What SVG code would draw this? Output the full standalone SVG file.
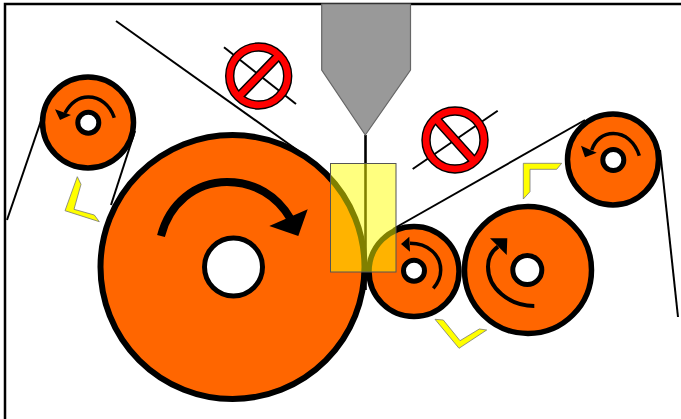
<svg xmlns="http://www.w3.org/2000/svg" width="681" height="419" viewBox="0 0 681 419">
<style>
.roller{fill:#ff6600;stroke:#000;stroke-width:5.500}
.hub{fill:#fff;stroke:#000;stroke-width:5}
.web{fill:none;stroke:#000;stroke-width:2}
.turn{fill:none;stroke:#000;stroke-width:3.500}
.head{fill:#000}
.chev{fill:#ffff00;stroke:#777;stroke-width:.8}
.disc{fill:#fff}
.ring{fill:none;stroke:#000;stroke-width:9.400}
.ringr{fill:none;stroke:#ff0000;stroke-width:6.600}
.bar{fill:#ff0000;stroke:#000;stroke-width:1.500}
</style>
<rect width="681" height="419" fill="#fff"/>
<path d="M5 419V4H681" fill="none" stroke="#000" stroke-width="2.500"/>
<g id="connectors">
<path class="web" d="M116 21L300 152"/>
<path d="M365.500 135V290" fill="none" stroke="#000" stroke-width="2.600"/>
<path class="web" d="M393 229L585 120"/>
<path class="web" d="M660 150L678 317"/>
<path class="web" d="M44 112L7 220"/>
<path class="web" d="M135 131L111 205"/>
</g>
<g id="roller-main">
<circle cx="232.500" cy="267" r="132" fill="#ff6600" stroke="#000" stroke-width="6"/>
<circle class="hub" cx="233.500" cy="267" r="29"/>
<path fill="none" stroke="#000" stroke-width="8" d="M161 236C169 204 195 182 227 182C255 182 277 196 290 218"/>
<path class="head" d="M307.700 209.300L298.300 236L269.300 226Z"/>
</g>
<g id="roller-left">
<circle class="roller" cx="88" cy="122.500" r="45.500"/>
<circle class="hub" cx="88.300" cy="122.700" r="10.500"/>
<path class="turn" d="M114.300 117.700C110 105 100 97 88.300 97C78 97 70 104 65 113"/>
<path class="head" d="M55 109.300L71 115L60 120Z"/>
</g>
<g id="roller-top-right">
<circle class="roller" cx="613" cy="159.500" r="45.500"/>
<circle class="hub" cx="613.300" cy="160" r="10.500"/>
<path class="turn" d="M639.300 155.700C635 142 625 133.500 613.300 133.500C603 133.500 595 140 591.700 150"/>
<path class="head" d="M581 145.700L596.700 152.700L585 157.300Z"/>
</g>
<g id="roller-mid-right">
<circle class="roller" cx="528" cy="270" r="63.500"/>
<circle class="hub" cx="527.300" cy="270" r="14.500"/>
<path fill="none" stroke="#000" stroke-width="4" d="M534.300 306C509 306 488 288 488 266.700C488 258 492 251 498 246.700"/>
<path class="head" d="M490 238.300L507.300 238.300L506.700 255Z"/>
</g>
<g id="roller-nip">
<circle class="roller" cx="414" cy="271.500" r="45"/>
<circle class="hub" cx="414" cy="270.700" r="10.500"/>
<path class="turn" d="M410 243.300C428 243.300 440.700 255 440.700 270C440.700 277 438 283 433.300 288.300"/>
<path class="head" d="M409.300 236.700L401 244L410 251.700Z"/>
</g>
<g id="nozzle">
<path d="M321.700 4H410.500V70L365.300 135L321.700 70Z" fill="#999" stroke="#666" stroke-width="1.200"/>
</g>
<g id="zone">
<rect x="330.500" y="163.500" width="65.500" height="108.500" fill="#ffff00" fill-opacity=".5" stroke="#555" stroke-width="1"/>
</g>
<g id="guide-left"><path class="chev" d="M77.300 176.700L81 184.300L74 209.300L94.300 215L99.300 221.700L65 210.700Z"/></g>
<g id="guide-top"><path class="chev" d="M561.700 163.300H523.300V199L530 191.700V169.300H556.700Z"/></g>
<g id="guide-bottom"><path class="chev" d="M435 319.300L443.300 320L460 340.700L479.300 329L486.700 330L459 348.300Z"/></g>
<g id="no-symbol-1">
<circle class="disc" cx="258.700" cy="76" r="29"/>
<path class="web" d="M224 47.300L296 104"/>
<circle class="ring" cx="258.700" cy="76" r="29"/>
<rect class="bar" x="-29" y="-4" width="58" height="8" transform="translate(258.700 76) rotate(-46)"/>
<circle class="ringr" cx="258.700" cy="76" r="29"/>
</g>
<g id="no-symbol-2">
<circle class="disc" cx="455" cy="140" r="29"/>
<path class="web" d="M412.700 169L497.700 110.700"/>
<circle class="ring" cx="455" cy="140" r="29"/>
<rect class="bar" x="-29" y="-4" width="58" height="8" transform="translate(455 140) rotate(48)"/>
<circle class="ringr" cx="455" cy="140" r="29"/>
</g>
</svg>
